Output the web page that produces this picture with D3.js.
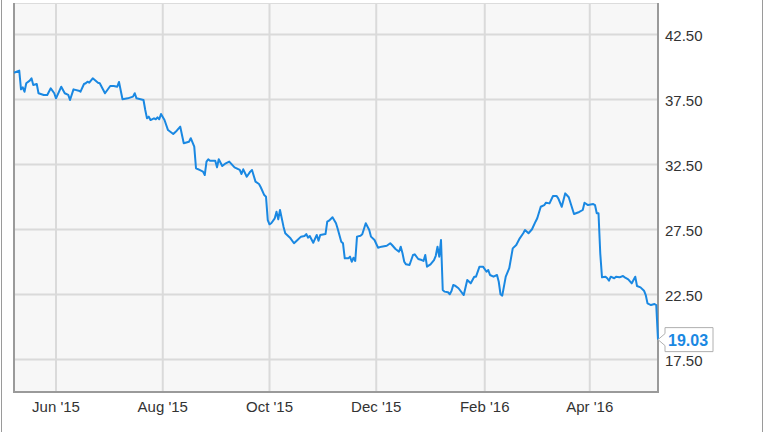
<!DOCTYPE html>
<html><head><meta charset="utf-8">
<script src="https://cdn.jsdelivr.net/npm/d3@7/dist/d3.min.js"></script>
<style>html,body{margin:0;padding:0;background:#fff;}svg{display:block;}</style>
</head><body>
<svg id="c" width="764" height="432"></svg>
<script>
const dates = ["2015-05-08","2015-05-11","2015-05-12","2015-05-13","2015-05-14","2015-05-15","2015-05-17","2015-05-18","2015-05-19","2015-05-21","2015-05-22","2015-05-25","2015-05-27","2015-05-29","2015-05-31","2015-06-01","2015-06-04","2015-06-06","2015-06-08","2015-06-09","2015-06-11","2015-06-14","2015-06-15","2015-06-17","2015-06-18","2015-06-19","2015-06-20","2015-06-22","2015-06-25","2015-06-26","2015-06-29","2015-07-02","2015-07-04","2015-07-06","2015-07-07","2015-07-09","2015-07-12","2015-07-15","2015-07-16","2015-07-17","2015-07-21","2015-07-22","2015-07-23","2015-07-24","2015-07-25","2015-07-27","2015-07-28","2015-07-29","2015-07-30","2015-07-31","2015-08-02","2015-08-04","2015-08-07","2015-08-09","2015-08-11","2015-08-13","2015-08-16","2015-08-17","2015-08-19","2015-08-20","2015-08-22","2015-08-24","2015-08-25","2015-08-26","2015-08-27","2015-08-28","2015-08-31","2015-09-01","2015-09-02","2015-09-04","2015-09-06","2015-09-08","2015-09-11","2015-09-14","2015-09-15","2015-09-16","2015-09-18","2015-09-20","2015-09-21","2015-09-23","2015-09-25","2015-09-26","2015-09-28","2015-09-29","2015-09-30","2015-10-01","2015-10-02","2015-10-04","2015-10-05","2015-10-06","2015-10-07","2015-10-09","2015-10-10","2015-10-13","2015-10-15","2015-10-17","2015-10-19","2015-10-21","2015-10-22","2015-10-23","2015-10-24","2015-10-26","2015-10-28","2015-10-29","2015-10-30","2015-11-02","2015-11-03","2015-11-04","2015-11-06","2015-11-08","2015-11-09","2015-11-11","2015-11-12","2015-11-13","2015-11-15","2015-11-16","2015-11-17","2015-11-18","2015-11-19","2015-11-20","2015-11-22","2015-11-23","2015-11-25","2015-11-27","2015-11-28","2015-11-30","2015-12-02","2015-12-04","2015-12-07","2015-12-09","2015-12-10","2015-12-12","2015-12-14","2015-12-15","2015-12-16","2015-12-17","2015-12-18","2015-12-20","2015-12-22","2015-12-23","2015-12-25","2015-12-27","2015-12-28","2015-12-29","2015-12-30","2016-01-01","2016-01-03","2016-01-04","2016-01-05","2016-01-06","2016-01-07","2016-01-08","2016-01-09","2016-01-11","2016-01-12","2016-01-13","2016-01-14","2016-01-15","2016-01-17","2016-01-20","2016-01-22","2016-01-24","2016-01-26","2016-01-27","2016-01-29","2016-01-31","2016-02-02","2016-02-03","2016-02-04","2016-02-06","2016-02-08","2016-02-09","2016-02-10","2016-02-11","2016-02-13","2016-02-15","2016-02-17","2016-02-19","2016-02-21","2016-02-23","2016-02-24","2016-02-26","2016-02-28","2016-03-01","2016-03-02","2016-03-04","2016-03-06","2016-03-07","2016-03-09","2016-03-11","2016-03-13","2016-03-14","2016-03-16","2016-03-18","2016-03-20","2016-03-23","2016-03-26","2016-03-28","2016-03-29","2016-03-31","2016-04-03","2016-04-04","2016-04-05","2016-04-06","2016-04-07","2016-04-08","2016-04-10","2016-04-11","2016-04-12","2016-04-13","2016-04-15","2016-04-16","2016-04-18","2016-04-20","2016-04-21","2016-04-23","2016-04-25","2016-04-27","2016-04-28","2016-04-30","2016-05-02","2016-05-03","2016-05-04","2016-05-06","2016-05-08","2016-05-09","2016-05-10"];
const prices = [39.56,39.72,38.28,38.44,38.10,38.75,38.95,39.13,38.62,38.69,37.98,37.85,37.85,38.36,37.98,37.59,38.48,37.98,37.85,37.46,38.28,38.18,38.10,38.69,38.75,38.87,38.79,39.13,38.79,38.75,37.98,38.54,38.54,38.48,38.85,37.52,37.59,37.72,37.98,37.59,37.46,36.69,36.05,36.18,35.92,36.05,35.98,36.13,35.98,36.38,35.92,35.15,34.85,35.10,35.41,34.13,34.25,34.52,33.87,32.21,32.08,31.95,31.69,32.72,32.90,32.79,32.79,32.28,32.90,32.38,32.59,32.72,32.28,32.08,31.77,32.13,31.56,31.95,32.08,31.18,31.00,30.75,30.15,30.02,28.23,27.90,27.98,28.36,28.87,28.28,29.00,27.72,27.21,26.82,26.44,26.69,26.95,27.00,27.15,26.87,27.00,26.48,27.08,26.64,27.08,27.15,28.10,28.18,28.44,27.98,27.54,26.56,26.44,25.28,25.28,25.41,25.02,25.33,25.08,26.95,27.02,27.13,27.98,27.46,26.95,26.69,26.10,26.18,26.25,26.44,26.31,26.00,25.79,26.18,25.67,25.02,24.82,24.77,25.54,25.59,25.23,25.15,25.08,25.54,24.64,24.82,25.15,25.48,26.18,25.41,26.69,22.85,22.72,22.67,22.52,22.77,23.23,23.18,22.98,22.46,23.62,23.36,23.87,23.87,24.64,24.64,24.25,24.38,24.00,23.87,24.00,23.48,22.52,22.41,23.87,24.52,26.05,26.31,26.82,27.21,27.46,27.21,27.52,28.10,28.36,29.25,29.38,29.56,29.51,30.08,30.08,29.90,29.25,30.28,29.98,28.69,28.85,29.00,29.56,29.38,29.46,29.38,28.75,28.75,25.67,23.82,23.87,23.75,23.56,23.87,23.75,23.87,23.82,23.92,23.82,23.67,23.36,23.87,23.15,23.05,22.79,22.46,21.82,21.69,21.77,21.69,19.03];
const yTicks = [17.5, 22.5, 27.5, 32.5, 37.5, 42.5];
const xTickDates = ["2015-06-01","2015-08-01","2015-10-01","2015-12-01","2016-02-01","2016-04-01"];
const xTickLabels = ["Jun '15","Aug '15","Oct '15","Dec '15","Feb '16","Apr '16"];
const lastLabel = "19.03";

const parse = d3.timeParse("%Y-%m-%d");
const data = dates.map((d,i)=>({date:parse(d), value:prices[i]}));

const svg = d3.select("#c");
const L=14, R=658, T=3, B=392;
const FONT = "Liberation Sans, Arial, sans-serif";
const x = d3.scaleTime().domain([parse("2015-05-08"), parse("2016-05-10")]).range([L, R]);
const y = d3.scaleLinear().domain([15, 45]).range([B, B-390]);

// outer frame lines
svg.append("line").attr("x1",1.5).attr("x2",1.5).attr("y1",0).attr("y2",432).attr("stroke","#9a9a9a").attr("stroke-width",1);
svg.append("line").attr("x1",762.5).attr("x2",762.5).attr("y1",0).attr("y2",432).attr("stroke","#9a9a9a").attr("stroke-width",1);

// plot background
svg.append("rect").attr("x",L).attr("y",T).attr("width",R-L).attr("height",B-T).attr("fill","#f7f7f7");

// grid
const g = svg.append("g");
g.selectAll("line.h").data(yTicks).join("line")
  .attr("x1",L).attr("x2",R).attr("y1",d=>y(d)).attr("y2",d=>y(d))
  .attr("stroke","#dadada").attr("stroke-width",2);
g.selectAll("line.v").data(xTickDates).join("line")
  .attr("x1",d=>x(parse(d))).attr("x2",d=>x(parse(d))).attr("y1",T).attr("y2",B)
  .attr("stroke","#dadada").attr("stroke-width",2);

// borders
svg.append("line").attr("x1",L).attr("x2",R).attr("y1",T+0.5).attr("y2",T+0.5).attr("stroke","#dcdcdc").attr("stroke-width",1);
svg.append("line").attr("x1",L).attr("x2",L).attr("y1",T).attr("y2",B+1).attr("stroke","#9a9a9a").attr("stroke-width",2);
svg.append("line").attr("x1",R).attr("x2",R).attr("y1",T).attr("y2",B+1).attr("stroke","#9a9a9a").attr("stroke-width",2);
svg.append("line").attr("x1",L).attr("x2",R+1).attr("y1",B).attr("y2",B).attr("stroke","#9a9a9a").attr("stroke-width",2);

// line
const line = d3.line().x(d=>x(d.date)).y(d=>y(d.value));
svg.append("path").datum(data).attr("d",line).attr("fill","none")
  .attr("stroke","#1a88e2").attr("stroke-width",2).attr("stroke-linejoin","round");

// y axis labels (right)
svg.selectAll("text.yl").data(yTicks).join("text")
  .attr("x",665).attr("y",d=>y(d)+1).attr("dy","0.36em")
  .attr("font-family",FONT).attr("font-size",15).attr("fill","#333")
  .text(d=>d3.format(".2f")(d));

// x axis labels
svg.selectAll("text.xl").data(xTickDates).join("text")
  .attr("x",d=>x(parse(d))).attr("y",412).attr("text-anchor","middle")
  .attr("font-family",FONT).attr("font-size",15).attr("fill","#333")
  .text((d,i)=>xTickLabels[i]);

// last value callout
const last = data[data.length-1];
const px = x(last.date), py = y(last.value);
const bx = px+7, bw = 48, bh = 24;
const path = `M${px},${py} L${bx},${py-6} L${bx},${py-bh/2} L${bx+bw},${py-bh/2} L${bx+bw},${py+bh/2} L${bx},${py+bh/2} L${bx},${py+6} Z`;
svg.append("path").attr("d",path).attr("fill","#fff").attr("stroke","#b0b0b0").attr("stroke-width",1);
svg.append("text").attr("x",bx+3).attr("y",py+0.5).attr("dy","0.36em")
  .attr("font-family",FONT).attr("font-size",16).attr("font-weight","bold")
  .attr("fill","#1a88e2").text(lastLabel);
</script>
</body></html>
